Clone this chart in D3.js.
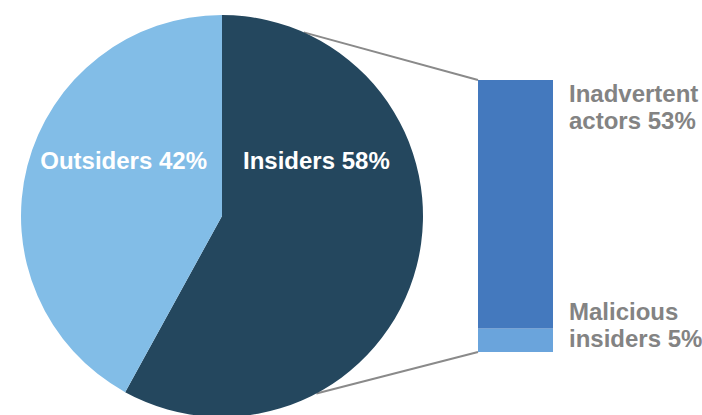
<!DOCTYPE html>
<html lang="en">
<head>
    <meta charset="UTF-8">
    <title>Insiders vs Outsiders</title>
    <script src="https://d3js.org/d3.v7.min.js"></script>
    <style>
        body {
            margin: 0;
            background: #fff;
            font-family: "Liberation Sans", Arial, sans-serif;
        }
        .pie-label {
            font-size: 24px;
            font-weight: bold;
            fill: #fff;
        }
        .bar-label {
            font-size: 24px;
            font-weight: bold;
            fill: #838383;
        }
    </style>
</head>
<body>

<div id="chart"></div>

<script>
// Data
const pieCategories = ["Insiders", "Outsiders"];
const pieValues = [58, 42];
const pieColors = ["#24475e", "#82bde7"];

const barCategories = ["Malicious insiders", "Inadvertent actors"];
const barValues = [5, 53];
const barColors = ["#6aa4dc", "#4479be"];

const width = 702, height = 415;

const svg = d3.select("#chart")
    .append("svg")
    .attr("width", width)
    .attr("height", height);

// Pie
const cx = 222, cy = 216, r = 201;

const pie = d3.pie().sort(null).value(d => d.value);
const arcs = pie(pieCategories.map((c, i) => ({ name: c, value: pieValues[i], color: pieColors[i] })));
const arc = d3.arc().innerRadius(0).outerRadius(r);

// Bar geometry
const barX = 478, barW = 75, barTop = 80, barBottom = 352;
const total = d3.sum(barValues);
const y = d3.scaleLinear().domain([0, total]).range([barBottom, barTop]);

// Connector lines (drawn under the pie)
const pt = a => [cx + r * Math.sin(a), cy - r * Math.cos(a)];
const topStart = pt(24 * Math.PI / 180);
const botStart = pt(152 * Math.PI / 180);
svg.append("line")
    .attr("x1", topStart[0]).attr("y1", topStart[1])
    .attr("x2", barX).attr("y2", y(total))
    .attr("stroke", "#8a8a8a").attr("stroke-width", 2);
svg.append("line")
    .attr("x1", botStart[0]).attr("y1", botStart[1])
    .attr("x2", barX).attr("y2", y(0))
    .attr("stroke", "#8a8a8a").attr("stroke-width", 2);

const g = svg.append("g").attr("transform", `translate(${cx},${cy})`);
g.selectAll("path")
    .data(arcs)
    .join("path")
    .attr("d", arc)
    .attr("fill", d => d.data.color);

// Pie labels
g.append("text")
    .attr("class", "pie-label")
    .attr("x", 21)
    .attr("y", 169 - cy)
    .text(`${pieCategories[0]} ${pieValues[0]}%`);
g.append("text")
    .attr("class", "pie-label")
    .attr("x", -15)
    .attr("y", 169 - cy)
    .attr("text-anchor", "end")
    .text(`${pieCategories[1]} ${pieValues[1]}%`);

// Stacked bar
let acc = 0;
const segs = barValues.map((v, i) => {
    const s = { name: barCategories[i], value: v, y0: acc, y1: acc + v, color: barColors[i] };
    acc += v;
    return s;
});

svg.selectAll(".seg")
    .data(segs)
    .join("rect")
    .attr("class", "seg")
    .attr("x", barX)
    .attr("width", barW)
    .attr("y", d => y(d.y1))
    .attr("height", d => y(d.y0) - y(d.y1))
    .attr("fill", d => d.color);

// Bar labels
const labelX = 569;
const labelTops = { "Inadvertent actors": 102, "Malicious insiders": 320 };
segs.forEach(d => {
    const words = d.name.split(" ");
    const t = svg.append("text")
        .attr("class", "bar-label")
        .attr("x", labelX)
        .attr("y", labelTops[d.name]);
    t.append("tspan").attr("x", labelX).text(words[0]);
    t.append("tspan").attr("x", labelX).attr("dy", 27).text(`${words[1]} ${d.value}%`);
});
</script>

</body>
</html>
